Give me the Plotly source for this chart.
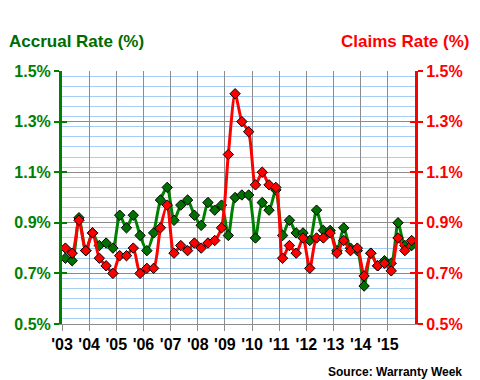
import plotly.graph_objects as go

# Quarterly data, Q1 2003 .. Q4 2015
years = list(range(2003, 2016))
quarters = [1, 2, 3, 4]
accrual_rate = [
    0.76, 0.75, 0.92, 0.79,   # 2003
    0.86, 0.81, 0.82, 0.80,   # 2004
    0.93, 0.88, 0.93, 0.85,   # 2005
    0.79, 0.86, 0.99, 1.04,   # 2006
    0.91, 0.97, 0.99, 0.93,   # 2007
    0.89, 0.98, 0.95, 0.97,   # 2008
    0.85, 1.00, 1.01, 1.01,   # 2009
    0.84, 0.98, 0.95, 1.03,   # 2010
    0.85, 0.91, 0.86, 0.86,   # 2011
    0.83, 0.95, 0.87, 0.87,   # 2012
    0.79, 0.88, 0.80, 0.79,   # 2013
    0.65, 0.78, 0.73, 0.75,   # 2014
    0.74, 0.90, 0.81, 0.81,   # 2015
]
claims_rate = [
    0.80, 0.78, 0.91, 0.79,   # 2003
    0.86, 0.76, 0.73, 0.70,   # 2004
    0.77, 0.77, 0.80, 0.70,   # 2005
    0.72, 0.72, 0.88, 0.97,   # 2006
    0.78, 0.81, 0.79, 0.82,   # 2007
    0.80, 0.82, 0.83, 0.88,   # 2008
    1.17, 1.41, 1.30, 1.26,   # 2009
    1.05, 1.10, 1.05, 1.04,   # 2010
    0.76, 0.81, 0.78, 0.84,   # 2011
    0.72, 0.84, 0.84, 0.86,   # 2012
    0.78, 0.83, 0.79, 0.80,   # 2013
    0.69, 0.78, 0.73, 0.74,   # 2014
    0.71, 0.84, 0.79, 0.83,   # 2015
]
year_labels = ["'03", "'04", "'05", "'06", "'07", "'08", "'09", "'10",
               "'11", "'12", "'13", "'14", "'15"]
y_ticks = [0.5, 0.7, 0.9, 1.1, 1.3, 1.5]

# x position: each quarter centred in its quarter-year slot
x_vals = [y + (q - 0.5) / 4 for y in years for q in quarters]

GREEN = "#008000"
DARK_GREEN = "#006c00"
RED = "#FF0000"
GRID = "#8c8c8c"
MINOR = "#a6cdf5"
FONT = "Liberation Sans, Arial, sans-serif"

fig = go.Figure()
fig.add_trace(go.Scatter(
    x=x_vals, y=claims_rate, yaxis="y2", mode="lines+markers",
    line=dict(color=RED, width=3, shape="spline", smoothing=0.7),
    marker=dict(symbol="diamond", size=8, color=RED,
                line=dict(color="black", width=1)),
    showlegend=False, hoverinfo="skip"))
fig.add_trace(go.Scatter(
    x=x_vals, y=accrual_rate, yaxis="y", mode="lines+markers",
    line=dict(color=GREEN, width=3, shape="spline", smoothing=0.7),
    marker=dict(symbol="diamond", size=8, color="#007000",
                line=dict(color="black", width=1)),
    showlegend=False, hoverinfo="skip"))
# dummy traces so that the inner-tick overlay axes are drawn
fig.add_trace(go.Scatter(x=[None], y=[None], yaxis="y3", showlegend=False, hoverinfo="skip"))
fig.add_trace(go.Scatter(x=[None], y=[None], yaxis="y4", showlegend=False, hoverinfo="skip"))

tick_text = [f"{v:.1f}%" for v in y_ticks]

fig.update_layout(
    width=480, height=380,
    margin=dict(l=62, r=65, t=71, b=56),
    paper_bgcolor="white", plot_bgcolor="white",
    font=dict(family=FONT),
    xaxis=dict(
        range=[2003, 2016], tickvals=years, ticktext=year_labels,
        showgrid=True, gridcolor=GRID, gridwidth=1,
        ticks="outside", ticklen=6, tickcolor=GRID, tickwidth=1,
        showline=True, linecolor=GRID, linewidth=1,
        tickfont=dict(family=FONT, size=16, color="black", weight="bold"),
        zeroline=False, fixedrange=True,
    ),
    yaxis=dict(
        range=[0.5, 1.5], tickvals=y_ticks, ticktext=tick_text,
        showgrid=True, gridcolor=GRID, gridwidth=1,
        minor=dict(dtick=0.04, showgrid=True, gridcolor=MINOR, gridwidth=1, ticks=""),
        ticks="outside", ticklen=5, tickcolor=GREEN, tickwidth=2,
        showline=True, linecolor=GREEN, linewidth=3,
        tickfont=dict(family=FONT, size=16, color=GREEN, weight="bold"),
        zeroline=False, side="left", fixedrange=True,
    ),
    yaxis2=dict(
        range=[0.5, 1.5], tickvals=y_ticks, ticktext=tick_text,
        overlaying="y", side="right", showgrid=False,
        ticks="outside", ticklen=5, tickcolor=RED, tickwidth=2,
        showline=True, linecolor=RED, linewidth=3,
        tickfont=dict(family=FONT, size=16, color=RED, weight="bold"),
        zeroline=False, fixedrange=True,
    ),
    yaxis3=dict(
        range=[0.5, 1.5], tickvals=y_ticks, overlaying="y", side="left",
        showgrid=False, showticklabels=False, showline=False, zeroline=False,
        ticks="inside", ticklen=5, tickcolor=GREEN, tickwidth=2, fixedrange=True,
    ),
    yaxis4=dict(
        range=[0.5, 1.5], tickvals=y_ticks, overlaying="y", side="right",
        showgrid=False, showticklabels=False, showline=False, zeroline=False,
        ticks="inside", ticklen=5, tickcolor=RED, tickwidth=2, fixedrange=True,
    ),
    annotations=[
        dict(text="Accrual Rate (%)", xref="paper", yref="paper",
             x=-0.155, y=1.115, xanchor="left", yanchor="middle", showarrow=False,
             font=dict(family=FONT, size=17, color=DARK_GREEN, weight="bold")),
        dict(text="Claims Rate (%)", xref="paper", yref="paper",
             x=1.158, y=1.115, xanchor="right", yanchor="middle", showarrow=False,
             font=dict(family=FONT, size=17, color=RED, weight="bold")),
        dict(text="Source: Warranty Week", xref="paper", yref="paper",
             x=1.139, y=-0.19, xanchor="right", yanchor="middle", showarrow=False,
             font=dict(family=FONT, size=12, color="black", weight="bold")),
    ],
)

fig.write_html(
    "out.html",
    config={"displayModeBar": False, "staticPlot": True},
    post_script="document.body.style.margin='0';document.body.style.padding='0';",
)
